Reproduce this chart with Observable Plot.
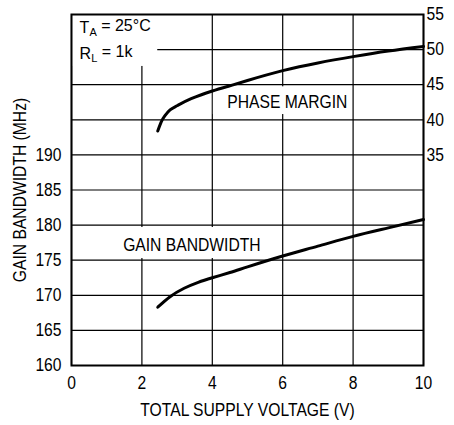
<!DOCTYPE html>
<html><head><meta charset="utf-8">
<script src="https://cdn.jsdelivr.net/npm/d3@7"></script>
<script src="https://cdn.jsdelivr.net/npm/@observablehq/plot@0.6"></script>
<style>
body{margin:0;background:#fff}
#chart svg{font-family:"Liberation Sans Narrow","Arial Narrow","Liberation Sans",Arial,sans-serif}
</style>
</head><body><div id="chart"></div>
<script>
// Gain bandwidth (MHz) vs total supply voltage (V)
const gbVoltage = [2.45, 2.8, 3.2, 3.6, 4, 4.5, 5, 6, 7, 8, 9, 10];
const gbMHz     = [168.3, 169.8, 171.0, 171.85, 172.5, 173.25, 174.05, 175.6, 177.0, 178.4, 179.6, 180.8];
// Phase margin (deg) vs total supply voltage (V)
const pmVoltage = [2.45, 2.55, 2.65, 2.8, 3, 3.4, 4, 4.5, 5, 6, 7, 8, 9, 10];
const pmDeg     = [38.4, 39.7, 40.55, 41.4, 42.0, 43.0, 44.1, 44.85, 45.6, 47.0, 48.1, 49.0, 49.8, 50.45];
// ticks
const xTicks = [0, 2, 4, 6, 8, 10];
const leftTicks = [160, 165, 170, 175, 180, 185, 190];
const gridY = [160, 165, 170, 175, 180, 185, 190, 195, 200, 205, 210];
const rightTicks = [35, 40, 45, 50, 55];
const pmOffset = 155; // right axis value = left axis value - 155
// annotations
const curveLabels = [
  {x: 6.13, y: 197.5, text: "PHASE MARGIN"},
  {x: 3.42, y: 177.2, text: "GAIN BANDWIDTH"}
];
const labelBoxes = [
  {x1: 0, x2: 2.45, y1: 202.6, y2: 210},
  {x1: 4.03, x2: 7.95, y1: 195.75, y2: 199.7},
  {x1: 1.34, x2: 5.51, y1: 175.24, y2: 179.66}
];
const condText = [
  {x: 0.23, y: 208.1, main: "T", sub: "A", rest: " = 25°C"},
  {x: 0.23, y: 204.4, main: "R", sub: "L", rest: " = 1k"}
];

const gb = gbVoltage.map((v, i) => ({v, y: gbMHz[i]}));
const pm = pmVoltage.map((v, i) => ({v, y: pmDeg[i] + pmOffset}));

const chart = Plot.plot({
  width: 454, height: 425,
  marginLeft: 71, marginRight: 31, marginTop: 14, marginBottom: 60,
  style: {fontSize: "18px", color: "#000", background: "#fff"},
  x: {domain: [0, 10]},
  y: {domain: [160, 210]},
  marks: [
    Plot.ruleY(gridY, {stroke: "#000", strokeWidth: 1.2}),
    Plot.ruleX(xTicks, {stroke: "#000", strokeWidth: 1.2}),
    Plot.rect(labelBoxes, {x1: "x1", x2: "x2", y1: "y1", y2: "y2", fill: "#fff"}),
    Plot.text(curveLabels, {x: "x", y: "y", text: "text", fill: "#000", fontSize: 18}),
    Plot.text(condText, {x: "x", y: "y", text: d => d.main + d.sub + d.rest, textAnchor: "start", fill: "#000", fontSize: 16}),
    Plot.line(gb, {x: "v", y: "y", curve: "natural", stroke: "#000", strokeWidth: 3}),
    Plot.line(pm, {x: "v", y: "y", curve: "natural", stroke: "#000", strokeWidth: 3}),
    Plot.axisX({ticks: xTicks, tickSize: 0, tickPadding: 11, label: "TOTAL SUPPLY VOLTAGE (V)", labelAnchor: "center", labelArrow: "none", labelOffset: 50}),
    Plot.axisY({ticks: leftTicks, anchor: "left", tickSize: 0, tickPadding: 10, label: "GAIN BANDWIDTH (MHz)", labelAnchor: "center", labelArrow: "none", labelOffset: 58}),
    Plot.axisY({ticks: rightTicks.map(d => d + pmOffset), anchor: "right", tickSize: 0, tickPadding: 3, tickFormat: d => d - pmOffset, label: null}),
    Plot.frame({stroke: "#000", strokeWidth: 2})
  ]
});
document.getElementById("chart").append(chart);

const svg = d3.select(chart);
// condensed look: squeeze every plain text horizontally
svg.selectAll("text").each(function() {
  if (condText.some(c => this.textContent === c.main + c.sub + c.rest)) return;
  const len = this.getComputedTextLength();
  if (len > 0) {
    this.setAttribute("textLength", (len * 0.87).toFixed(1));
    this.setAttribute("lengthAdjust", "spacingAndGlyphs");
  }
});
// subscripts for the test-condition block
condText.forEach(c => {
  svg.selectAll("text").filter(function() { return this.textContent === c.main + c.sub + c.rest; })
    .each(function() {
      const t = d3.select(this);
      t.text(null);
      t.append("tspan").text(c.main);
      t.append("tspan").attr("font-size", 11).attr("dy", "0.3em").text(c.sub);
      t.append("tspan").attr("dy", "-0.3em").text(c.rest);
    });
});
</script>
</body></html>
